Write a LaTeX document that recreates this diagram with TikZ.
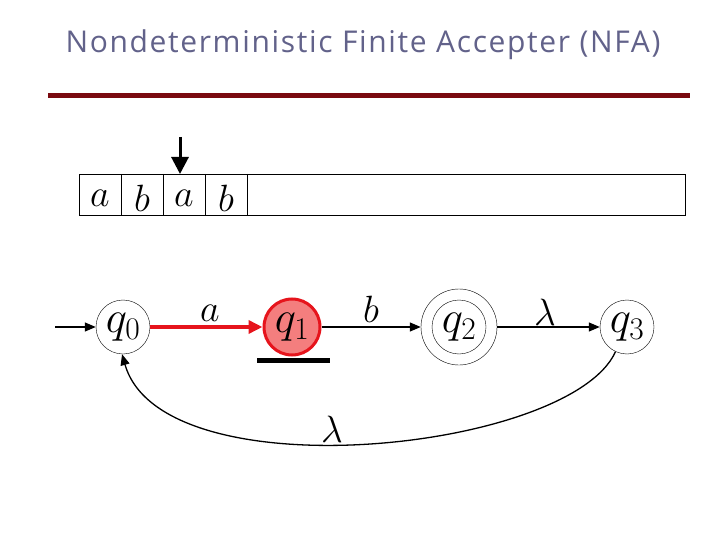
\RequirePackage{fix-cm}
\documentclass[tikz,border=0pt]{standalone}
\usepackage{fontspec}
\setsansfont{Open Sans}[LetterSpace=5.5]
\usetikzlibrary{arrows.meta}

\definecolor{titlegray}{RGB}{98,98,138}
\definecolor{barred}{RGB}{122,10,16}
\definecolor{statered}{RGB}{230,20,28}
\definecolor{statefill}{RGB}{244,126,126}

\tikzset{
    state/.style={draw, circle, minimum size=54pt, inner sep=0pt,
        font=\fontsize{45}{52}\selectfont},
    symb/.style={inner sep=0pt, font=\fontsize{38}{44}\selectfont},
    trans/.style={->, line width=1.3pt}
}

\begin{document}
\begin{tikzpicture}[x=1pt, y=-1pt, >={Triangle[length=11pt,width=9pt]}]
    \useasboundingbox (0,0) rectangle (720,540);

    \node[font=\sffamily\fontsize{30}{36}\selectfont, text=titlegray] (title) at (363,45)
        {Nondeterministic Finite Accepter (NFA)};
    \draw[barred, line width=5pt] (48,95.5) -- (690,95.5);

    % input tape
    \draw[line width=0.8pt] (79,174) rectangle (685,215);
    \foreach \i/\s in {0/a,1/b,2/a,3/b} {
        \draw[line width=0.8pt] (79+42*\i+42,174) -- (79+42*\i+42,215);
        \node[symb] (t\i) at (100+42*\i,198) {$\s$};
    }

    % read head
    \coordinate (headtop) at (180,137);
    \coordinate (headtip) at (180,174);
    \draw[-{Triangle[length=17pt,width=17pt]}, line width=3pt] (headtop) -- (headtip);

    % states
    \node[state] (q0) at (123,327) {$q_0$};
    \node[state, draw=statered, fill=statefill, line width=3pt, minimum size=56pt]
        (q1) at (292,327) {$q_1$};
    \node[state] (q2) at (459,327) {$q_2$};
    \node[draw, circle, minimum size=76pt, inner sep=0pt] (q2o) at (459,327) {};
    \node[state] (q3) at (627,327) {$q_3$};

    \draw[line width=5pt] (257,360.5) -- (330,360.5);

    % transitions
    \coordinate (start) at (55,327);
    \draw[trans] (start) -- (q0);
    \draw[->, statered, line width=4pt, >={Triangle[length=14pt,width=13pt]}] (q0) -- (q1);
    \draw[trans] (q1) -- (q2o);
    \draw[trans] (q2o) -- (q3);
    \draw[trans] (q3.-115) .. controls +(-45,100) and +(40,140) .. (q0.-92);

    \node[symb] (la) at (210,313) {$a$};
    \node[symb] (lb) at (371,309) {$b$};
    \node[symb] (ll1) at (545,312) {$\lambda$};
    \node[symb] (ll2) at (332,429) {$\lambda$};
\end{tikzpicture}
\end{document}
